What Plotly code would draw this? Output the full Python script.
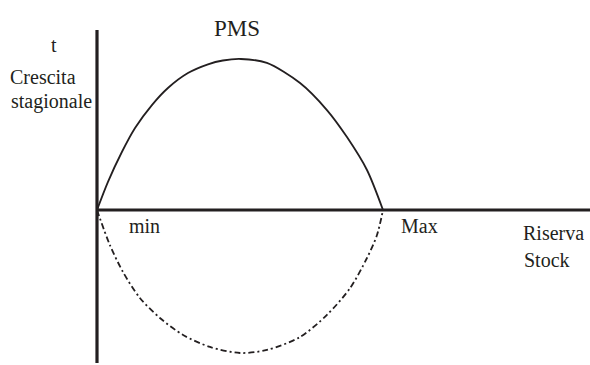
import plotly.graph_objects as go

# Stock (0 = min, 100 = Max) and seasonal growth
stock_upper = [0, 3.8, 8.7, 13.3, 19.2, 24.8, 31.8, 38.8, 44.0, 50.3, 59.4, 71.0, 80.4, 87.4, 94.4, 100]
growth_upper = [0, 18.5, 38.4, 54.3, 69.5, 80.8, 90.7, 96.5, 99.0, 100, 97.4, 84.1, 66.2, 48.3, 26.5, 0]

stock_lower = [0, 4.5, 9.1, 15.0, 22.0, 30.1, 39.5, 50, 59.4, 71.0, 80.4, 88.5, 94.4, 97.9, 100]
growth_lower = [0, -23.2, -41.1, -58.3, -71.5, -82.8, -90.7, -94.7, -92.7, -84.1, -69.5, -51.7, -31.8, -16.6, 0]

W, H = 590, 365
X0PX, X100PX = 97, 383     # pixel positions of stock 0 and 100
Y0PX, Y100PX = 210, 59     # pixel positions of growth 0 and 100
sx = (X100PX - X0PX) / 100.0
sy = (Y0PX - Y100PX) / 100.0
xrange = [(0 - X0PX) / sx, (W - X0PX) / sx]
yrange = [(Y0PX - H) / sy, (Y0PX - 0) / sy]

ink = "#231f20"
font = "Liberation Serif, Times New Roman, serif"

fig = go.Figure()
fig.add_trace(go.Scatter(x=stock_upper, y=growth_upper, mode="lines",
                         line=dict(color=ink, width=1.8, shape="spline", smoothing=0.8),
                         hoverinfo="skip", showlegend=False))
fig.add_trace(go.Scatter(x=stock_lower, y=growth_lower, mode="lines",
                         line=dict(color=ink, width=1.8, shape="spline", smoothing=0.8,
                                   dash="6px,3px,2px,3px"),
                         hoverinfo="skip", showlegend=False))

# axes drawn as thick lines
fig.add_shape(type="line", xref="x", yref="paper", x0=0, x1=0, y0=1 - 30 / H, y1=1 - 363 / H,
              line=dict(color=ink, width=3.2), layer="above")
fig.add_shape(type="line", xref="x", yref="y", x0=0, x1=xrange[1], y0=0, y1=0,
              line=dict(color=ink, width=3.2), layer="above")

labels = [
    ("t", 54, 45, 20),
    ("PMS", 237, 28, 23),
    ("Crescita", 43, 77, 20),
    ("stagionale", 51, 102, 20),
    ("min", 144, 226, 20),
    ("Max", 419, 226, 20),
    ("Riserva", 553, 233, 20),
    ("Stock", 547, 260, 20),
]
for txt, px, py, fs in labels:
    fig.add_annotation(text=txt, xref="paper", yref="paper", x=px / W, y=1 - py / H,
                       xanchor="center", yanchor="middle", showarrow=False,
                       font=dict(family=font, size=fs, color=ink))

fig.update_layout(
    width=W, height=H, margin=dict(l=0, r=0, t=0, b=0),
    paper_bgcolor="white", plot_bgcolor="white",
    xaxis=dict(range=xrange, visible=False, fixedrange=True),
    yaxis=dict(range=yrange, visible=False, fixedrange=True),
    showlegend=False,
)
fig.write_html("out.html", config={"displayModeBar": False},
               post_script="document.body.style.margin='0';document.body.style.padding='0';document.body.style.overflow='hidden';")
